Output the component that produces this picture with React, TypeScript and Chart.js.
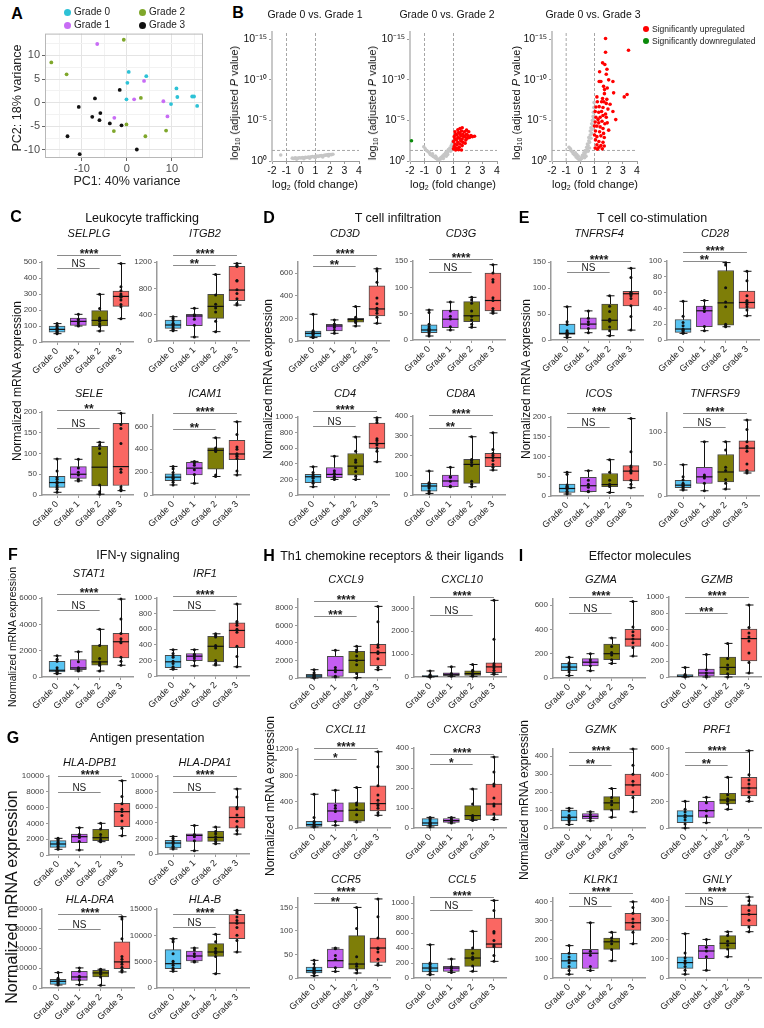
import React, { useEffect, useRef } from "react";
import { Chart, registerables } from "chart.js";

Chart.register(...registerables);
const FF = "Arial, 'Liberation Sans', Helvetica, sans-serif";
Chart.defaults.font.family = FF;

// ---------- shared categories / colors ----------
const GRADES = ["Grade 0", "Grade 1", "Grade 2", "Grade 3"];
const BOX_COLORS = ["#58C4F2", "#C45EF2", "#7E7E08", "#FA6762"];
const PCA_COLORS = ["#2DC2D6", "#C86CF5", "#7FA72B", "#111111"];
const SIG_PAIRS = [[0, 3], [0, 2]];

// ---------- Panel A: PCA ----------
const PCA_G0 = [[0.4, 6.5], [0.1, 4.2], [4.3, 5.6], [-0.1, 0.7], [9.8, -0.3], [11.0, 3.0], [11.2, 1.2], [14.5, 1.3], [14.9, 1.3], [15.6, -0.7]];
const PCA_G1 = [[-6.6, 12.4], [3.8, 4.6], [1.6, 0.7], [8.1, 0.3], [-2.8, -3.2], [9.0, -2.9]];
const PCA_G2 = [[-16.8, 8.5], [-13.4, 6.0], [-0.7, 13.3], [3.1, 1.0], [-2.9, -6.0], [-0.1, -4.6], [4.1, -7.1], [8.7, -5.9]];
const PCA_G3 = [[-1.6, 2.7], [-7.1, 0.9], [-10.7, -0.9], [-5.9, -2.2], [-7.7, -3.0], [-6.1, -3.7], [-3.8, -4.4], [-1.2, -4.8], [-13.2, -7.1], [2.2, -9.9], [-10.5, -10.9]];

// ---------- Panel B: volcano ----------
const V1_GRAY = [[-1.4, 0.74], [-0.6, 0.35], [-0.5, 0.3], [-0.4, 0.38], [-0.3, 0.32], [-0.2, 0.36], [-0.1, 0.4], [0, 0.37], [0.1, 0.42], [0.2, 0.4], [0.3, 0.45], [0.4, 0.43], [0.5, 0.5], [0.6, 0.47], [0.7, 0.52], [0.8, 0.55], [0.9, 0.5], [1.0, 0.58], [1.1, 0.6], [1.2, 0.57], [1.3, 0.63], [1.4, 0.66], [1.5, 0.62], [1.6, 0.7], [1.7, 0.72], [1.8, 0.75], [1.9, 0.78], [2.0, 0.8], [2.1, 0.78], [2.2, 0.83], [-0.3, 0.22], [0.2, 0.28], [0.6, 0.35], [1.0, 0.42], [1.5, 0.5], [1.9, 0.62]];
const V2_GRAY = [[-1.05, 1.75], [-0.95, 1.5], [-0.85, 1.3], [-0.75, 1.15], [-0.65, 1.0], [-0.6, 0.8], [-0.5, 0.7], [-0.45, 0.9], [-0.4, 0.55], [-0.3, 0.45], [-0.25, 0.6], [-0.2, 0.3], [-0.1, 0.2], [0, 0.15], [0.05, 0.3], [0.1, 0.25], [0.15, 0.45], [0.2, 0.4], [0.25, 0.6], [0.3, 0.55], [0.35, 0.8], [0.4, 0.7], [0.45, 1.0], [0.5, 0.9], [0.55, 1.2], [0.6, 1.1], [0.65, 1.4], [0.7, 1.3], [0.75, 1.6], [0.8, 1.5], [0.85, 1.9], [0.9, 1.7], [0.92, 2.2], [0.95, 2.0], [0.97, 2.5], [0.6, 0.8], [0.3, 0.3], [-0.2, 0.5], [0.8, 1.2], [0.5, 0.6]];
const V2_RED = [[1.0, 1.5], [1.05, 1.8], [1.1, 2.1], [1.0, 2.4], [1.1, 2.7], [1.05, 3.0], [1.15, 3.3], [1.1, 3.6], [1.2, 1.6], [1.25, 2.0], [1.3, 2.3], [1.2, 2.6], [1.3, 2.9], [1.25, 3.2], [1.35, 3.5], [1.3, 3.85], [1.4, 1.7], [1.45, 2.1], [1.5, 2.5], [1.4, 2.8], [1.5, 3.1], [1.45, 3.4], [1.55, 3.7], [1.6, 1.9], [1.65, 2.3], [1.6, 2.7], [1.7, 3.0], [1.65, 3.3], [1.75, 3.6], [1.8, 2.2], [1.85, 2.6], [1.8, 3.0], [1.9, 3.3], [1.95, 2.8], [2.0, 3.1], [2.1, 2.9], [2.2, 3.15], [2.3, 3.0], [2.45, 3.05], [1.15, 1.35], [1.35, 1.4], [1.55, 1.35], [2.05, 3.6], [1.45, 4.0], [1.6, 4.1], [1.9, 3.8]];
const V2_GREEN = [[-1.9, 2.5]];
const V3_GRAY = [[-0.8, 1.7], [-0.7, 1.5], [-0.65, 1.25], [-0.55, 1.1], [-0.5, 0.9], [-0.4, 0.75], [-0.35, 1.0], [-0.3, 0.5], [-0.2, 0.35], [-0.15, 0.6], [-0.1, 0.2], [0, 0.15], [0.05, 0.4], [0.1, 0.3], [0.15, 0.7], [0.2, 0.55], [0.25, 1.0], [0.3, 0.85], [0.35, 1.3], [0.4, 1.1], [0.45, 1.7], [0.5, 1.5], [0.5, 2.1], [0.55, 1.9], [0.6, 2.5], [0.6, 2.9], [0.65, 2.3], [0.7, 3.2], [0.7, 3.7], [0.75, 2.8], [0.75, 4.1], [0.8, 3.4], [0.8, 4.6], [0.85, 5.0], [0.85, 3.9], [0.9, 5.5], [0.9, 4.4], [0.92, 6.0], [0.95, 6.6], [0.95, 5.2], [0.97, 7.2], [0.55, 1.2], [0.3, 0.4], [-0.25, 0.8], [0.65, 1.6], [0.4, 0.6]];
const V3_RED = [[1.78, 15.1], [3.4, 13.65], [1.78, 13.4], [1.57, 12.1], [1.73, 11.9], [1.88, 11.3], [1.36, 11.0], [1.83, 10.7], [1.33, 9.8], [1.45, 9.8], [2.0, 10.0], [2.3, 9.8], [1.64, 9.2], [1.71, 8.8], [1.9, 9.0], [2.35, 8.4], [1.7, 8.3], [1.17, 7.9], [1.57, 7.7], [1.87, 7.6], [3.3, 8.2], [3.1, 7.9], [1.2, 7.3], [1.5, 7.3], [1.66, 7.3], [1.83, 7.1], [1.1, 6.65], [1.33, 6.7], [1.6, 6.6], [2.3, 6.1], [1.05, 6.1], [1.3, 6.0], [1.5, 6.1], [1.78, 5.8], [1.1, 5.4], [1.4, 5.4], [1.6, 5.6], [1.83, 5.4], [2.5, 5.1], [1.05, 4.8], [1.3, 4.7], [1.53, 4.9], [1.73, 4.6], [1.17, 4.3], [1.4, 4.2], [1.6, 4.0], [1.07, 3.7], [1.36, 3.6], [1.64, 3.4], [1.17, 3.0], [1.45, 3.1], [1.69, 2.9], [1.07, 2.6], [1.31, 2.4], [1.6, 2.3], [1.17, 2.0], [1.45, 1.9], [1.69, 1.85], [1.05, 1.6], [1.31, 1.7], [1.2, 1.45], [1.55, 1.5], [1.0, 3.2], [1.0, 4.3], [1.25, 5.1], [1.95, 6.4], [2.1, 7.0], [1.9, 4.7], [2.0, 3.8]];
const VOLCANO_YTICKS = [0, 5, 10, 15];
const VOLCANO_YLABELS = ["10\u2070", "10\u207B\u2075", "10\u207B\u00B9\u2070", "10\u207B\u00B9\u2075"];
const VOLCANO_XTICKS = [-2, -1, 0, 1, 2, 3, 4];

// ---------- Box plots: [min, q1, median, q3, max] per grade, and points ----------
const SELPLG_STATS = [[52, 62, 79, 100, 115], [100, 104, 129, 150, 173], [69, 100, 135, 196, 298], [146, 223, 285, 319, 490]];
const SELPLG_PTS = [[52, 58, 62, 68, 75, 80, 86, 95, 104, 115], [100, 104, 118, 129, 142, 173], [69, 98, 112, 130, 140, 150, 210, 298], [146, 220, 235, 262, 280, 290, 300, 320, 345, 490]];
const SELPLG_SIG = ["****", "NS"];
const ITGB2_STATS = [[157, 192, 243, 319, 369], [61, 233, 380, 405, 496], [142, 344, 526, 708, 1012], [546, 612, 774, 1133, 1179]];
const ITGB2_PTS = [[157, 180, 200, 228, 250, 270, 310, 340, 369], [61, 240, 330, 380, 400, 496], [142, 300, 440, 500, 560, 700, 1012], [546, 570, 640, 720, 780, 910, 920, 1130, 1150, 1179]];
const ITGB2_SIG = ["****", "**"];
const SELE_STATS = [[6.5, 18.5, 30, 45, 87], [34, 40, 50, 68.5, 86], [2, 22, 67, 117, 127], [10.5, 23, 68.5, 173, 197]];
const SELE_PTS = [[6.5, 14, 18, 22, 28, 32, 38, 42, 58, 87], [34, 38, 48, 55, 65, 86], [2, 8, 24, 100, 112, 120, 127], [10.5, 14, 20, 55, 62, 124, 160, 170, 197]];
const SELE_SIG = ["**", "NS"];
const ICAM1_STATS = [[88, 126, 156, 185, 250], [103, 176, 235, 285, 294], [162, 226, 391, 412, 500], [176, 309, 359, 479, 641]];
const ICAM1_PTS = [[88, 112, 130, 145, 152, 160, 175, 196, 230, 250], [103, 180, 220, 260, 280, 294], [162, 175, 380, 390, 400, 412, 500], [176, 210, 320, 340, 350, 360, 400, 420, 530, 641]];
const ICAM1_SIG = ["****", "**"];
const CD3D_STATS = [[30, 36, 68, 89, 237], [68, 89, 133, 148, 187], [133, 166, 190, 201, 305], [157, 222, 284, 489, 640]];
const CD3D_PTS = [[30, 34, 40, 55, 62, 70, 75, 82, 90, 237], [68, 95, 120, 135, 150, 187], [133, 165, 175, 185, 195, 210, 305], [157, 210, 245, 270, 290, 330, 380, 520, 620, 640]];
const CD3D_SIG = ["****", "**"];
const CD3G_STATS = [[7.6, 14, 19, 28.7, 57], [19, 23.6, 39.5, 57, 72], [24, 35, 46, 73, 81], [51, 55, 75, 127, 143]];
const CD3G_PTS = [[7.6, 12, 16, 18, 20, 22, 25, 30, 52, 57], [19, 25, 40, 45, 55, 72], [24, 30, 38, 45, 55, 70, 76, 81], [51, 53, 55, 60, 75, 80, 110, 115, 127, 143]];
const CD3G_SIG = ["****", "NS"];
const CD4_STATS = [[106, 157, 234, 264, 362], [200, 221, 264, 353, 498], [200, 255, 370, 532, 745], [426, 596, 660, 923, 991]];
const CD4_PTS = [[106, 150, 180, 215, 230, 245, 260, 290, 362], [200, 215, 240, 280, 310, 498], [200, 240, 300, 350, 420, 450, 560, 745], [426, 560, 600, 640, 660, 700, 720, 930, 960, 991]];
const CD4_SIG = ["****", "NS"];
const CD8A_STATS = [[8, 20, 45.5, 59, 121], [42, 42, 71, 101, 140], [42, 59, 155, 180, 295], [126, 143, 189, 211, 315]];
const CD8A_PTS = [[8, 15, 22, 35, 40, 48, 52, 58, 62, 121], [42, 45, 70, 90, 92, 140], [42, 55, 70, 150, 165, 175, 180, 295], [126, 140, 155, 175, 190, 200, 210, 230, 315]];
const CD8A_SIG = ["****", "**"];
const TNFRSF4_STATS = [[5, 10.8, 12.7, 30.6, 64], [14, 21, 30.6, 42.7, 56], [8.3, 19, 38, 69, 85], [19, 65.6, 89, 93.6, 138]];
const TNFRSF4_PTS = [[5, 8, 10, 12, 13, 15, 18, 30, 35, 64], [14, 22, 30, 35, 42, 56], [8.3, 18, 25, 36, 40, 55, 65, 85], [19, 45, 66, 80, 85, 88, 90, 92, 120, 138]];
const TNFRSF4_SIG = ["****", "NS"];
const CD28_STATS = [[8.4, 9.7, 13.9, 26, 49], [11.8, 16.8, 37, 43, 50], [16.8, 18.9, 47, 88, 98], [30.7, 40, 47.5, 62, 87]];
const CD28_PTS = [[8.4, 9, 10, 12, 13, 14, 18, 22, 30, 49], [11.8, 17, 36, 40, 42, 50], [16.8, 18, 20, 42, 48, 66, 95, 98], [30.7, 38, 42, 45, 47, 48, 50, 56, 75, 87]];
const CD28_SIG = ["****", "**"];
const ICOS_STATS = [[5, 9, 19, 30, 60], [11, 11, 26, 47, 64], [9, 23.5, 29, 57, 92], [21, 38, 63, 77, 196]];
const ICOS_PTS = [[5, 8, 12, 18, 20, 22, 25, 28, 55, 60], [11, 12, 22, 30, 40, 64], [9, 24, 26, 30, 40, 60, 92], [21, 30, 40, 58, 62, 65, 72, 76, 112, 196]];
const ICOS_SIG = ["***", "NS"];
const TNFRSF9_STATS = [[9.3, 12.9, 17, 24.7, 49], [8.2, 19.6, 30, 45, 85], [10.8, 22, 37.6, 65, 85], [36, 38.6, 75, 86.5, 119]];
const TNFRSF9_PTS = [[9.3, 11, 13, 15, 17, 18, 20, 25, 30, 49], [8.2, 20, 28, 31, 33, 85], [10.8, 20, 26, 40, 45, 72, 85], [36, 38, 40, 50, 70, 75, 78, 85, 104, 119]];
const TNFRSF9_SIG = ["****", "NS"];
const STAT1_STATS = [[255, 382, 510, 1198, 1607], [459, 561, 689, 1326, 1913], [459, 893, 1148, 2422, 3621], [893, 1454, 2678, 3315, 5916]];
const STAT1_PTS = [[255, 330, 400, 450, 520, 700, 1200, 1350, 1607], [459, 520, 650, 700, 1150, 1913], [459, 900, 1000, 1148, 1400, 2400, 3621], [893, 1200, 1500, 2600, 2700, 2900, 3300, 4400, 5916]];
const STAT1_SIG = ["****", "NS"];
const IRF1_STATS = [[85, 106, 182, 266, 338], [131, 195, 254, 288, 338], [140, 182, 381, 508, 541], [118, 364, 584, 681, 922]];
const IRF1_PTS = [[85, 100, 120, 160, 190, 240, 260, 290, 338], [131, 200, 230, 260, 280, 338], [140, 160, 200, 360, 390, 500, 520, 541], [118, 250, 380, 560, 600, 650, 680, 700, 922]];
const IRF1_SIG = ["****", "NS"];
const HLA_DPB1_STATS = [[717, 971, 1393, 1815, 2110], [633, 1561, 2321, 2659, 3460], [1688, 1815, 2194, 3249, 4009], [2448, 3587, 5486, 6541, 9411]];
const HLA_DPB1_PTS = [[717, 900, 1100, 1300, 1450, 1600, 1800, 2000, 2110], [633, 1700, 2200, 2400, 2600, 3460], [1688, 1800, 1900, 2200, 2600, 3300, 4009], [2448, 3400, 4300, 5000, 5500, 5800, 6500, 7400, 9411]];
const HLA_DPB1_SIG = ["****", "NS"];
const HLA_DPA1_STATS = [[638, 766, 1404, 1745, 2255], [425, 1617, 2383, 2596, 3659], [1319, 1617, 2128, 2893, 3447], [2553, 3319, 4681, 6085, 8340]];
const HLA_DPA1_PTS = [[638, 800, 1000, 1300, 1500, 1700, 2000, 2255], [425, 1700, 2200, 2400, 2500, 3659], [1319, 1600, 1900, 2200, 2600, 2900, 3447], [2553, 3000, 3500, 4200, 5000, 5800, 6000, 7300, 8340]];
const HLA_DPA1_SIG = ["****", "NS"];
const HLA_DRA_STATS = [[1526, 1865, 3390, 4407, 7797], [1695, 3898, 5593, 8475, 10170], [1356, 5593, 7627, 8983, 9492], [8136, 9831, 13220, 23390, 36100]];
const HLA_DRA_PTS = [[1526, 2000, 2500, 3000, 3500, 4000, 4200, 5000, 7797], [1695, 4000, 5500, 6000, 8500, 10170], [1356, 5600, 7000, 7600, 8500, 9200, 9492], [8136, 9000, 10500, 12000, 13200, 14500, 16000, 25000, 35000, 36100]];
const HLA_DRA_SIG = ["****", "NS"];
const HLA_B_STATS = [[3165, 3671, 4621, 7280, 9368], [4937, 5127, 6077, 7026, 7596], [2722, 6013, 6836, 8419, 10190], [6836, 9368, 12340, 13990, 14750]];
const HLA_B_PTS = [[3165, 3500, 3800, 4300, 4700, 5100, 6500, 8800, 9200, 9368], [4937, 5100, 6000, 6500, 7200, 7596], [2722, 6000, 6600, 7000, 7500, 8800, 10190], [6836, 9000, 10000, 11500, 12300, 12800, 13500, 14200, 14500, 14750]];
const HLA_B_SIG = ["****", "NS"];
const CXCL9_STATS = [[0, 38, 228, 417, 949], [114, 190, 873, 2467, 3150], [38, 569, 2011, 3036, 3605], [949, 1366, 2884, 3833, 8159]];
const CXCL9_PTS = [[0, 30, 80, 150, 230, 300, 400, 600, 949], [114, 200, 700, 900, 1200, 3150], [38, 500, 1500, 2000, 2500, 3000, 3200, 3605], [949, 1200, 2200, 2800, 3000, 3500, 3800, 6400, 8159]];
const CXCL9_SIG = ["****", "***"];
const CXCL10_STATS = [[0, 0, 30, 59, 266], [30, 59, 118, 177, 443], [30, 74, 148, 266, 546], [118, 192, 443, 620, 3353]];
const CXCL10_PTS = [[0, 10, 20, 30, 40, 60, 100, 266], [30, 80, 120, 150, 443], [30, 70, 120, 150, 250, 300, 546], [118, 150, 200, 300, 400, 500, 580, 1650, 3353]];
const CXCL10_SIG = ["****", "NS"];
const CXCL11_STATS = [[15, 25, 51, 102, 513], [41, 91, 259, 381, 574], [91, 102, 269, 386, 615], [193, 259, 371, 640, 1158]];
const CXCL11_PTS = [[15, 20, 30, 45, 55, 80, 100, 160, 513], [41, 100, 250, 300, 340, 574], [91, 100, 200, 280, 350, 380, 615], [193, 230, 300, 340, 370, 420, 500, 640, 930, 1158]];
const CXCL11_SIG = ["****", "*"];
const CXCR3_STATS = [[5, 12, 25, 47, 53], [25, 28, 37, 47, 53], [38, 42, 62, 112, 195], [42, 63, 120, 220, 355]];
const CXCR3_PTS = [[5, 12, 18, 22, 25, 30, 40, 48, 53], [25, 30, 36, 40, 45, 53], [38, 42, 50, 55, 62, 120, 195], [42, 50, 70, 110, 120, 150, 210, 220, 280, 355]];
const CXCR3_SIG = ["****", "*"];
const CCR5_STATS = [[5, 10.6, 15.6, 23.3, 37.5], [14, 21.2, 36.8, 61.6, 63.7], [10.6, 19, 29.7, 90, 150], [27, 33, 63.7, 85, 168]];
const CCR5_PTS = [[5, 10, 12, 14, 16, 18, 20, 22, 30, 37.5], [14, 22, 40, 48, 62, 63.7], [10.6, 18, 25, 30, 45, 105, 150], [27, 30, 40, 55, 62, 64, 85, 130, 168]];
const CCR5_SIG = ["****", "**"];
const CCL5_STATS = [[44, 80, 133, 200, 444], [75, 89, 133, 155, 253], [89, 155, 266, 386, 622], [222, 400, 453, 800, 1035]];
const CCL5_PTS = [[44, 60, 90, 120, 150, 180, 200, 444], [75, 100, 130, 150, 253], [89, 160, 250, 280, 330, 400, 622], [222, 300, 420, 440, 500, 600, 620, 900, 1035]];
const CCL5_SIG = ["****", "NS"];
const GZMA_STATS = [[20, 60, 90, 120, 170], [60, 100, 130, 160, 200], [120, 150, 200, 280, 330], [180, 260, 320, 400, 630]];
const GZMA_PTS = [[20, 50, 70, 85, 95, 110, 125, 170], [60, 100, 130, 150, 200], [120, 150, 190, 210, 260, 330], [180, 250, 290, 320, 350, 380, 420, 630]];
const GZMA_SIG = ["****", "NS"];
const GZMB_STATS = [[0, 5, 10, 30, 120], [0, 10, 50, 100, 280], [0, 30, 120, 250, 420], [50, 200, 480, 600, 900]];
const GZMB_PTS = [[0, 5, 8, 12, 20, 30, 120], [0, 20, 50, 90, 280], [0, 40, 100, 150, 230, 420], [50, 180, 300, 450, 500, 550, 620, 900]];
const GZMB_SIG = ["****", "***"];
const GZMK_STATS = [[20, 40, 60, 100, 110], [40, 50, 65, 80, 90], [60, 100, 140, 175, 220], [90, 180, 240, 300, 440]];
const GZMK_PTS = [[20, 35, 45, 55, 60, 70, 95, 110], [40, 55, 62, 75, 90], [60, 100, 130, 150, 170, 220], [90, 170, 200, 240, 260, 300, 350, 440]];
const GZMK_SIG = ["****", "**"];
const PRF1_STATS = [[0, 40, 90, 130, 200], [40, 80, 130, 200, 230], [140, 180, 210, 260, 380], [200, 240, 300, 380, 580]];
const PRF1_PTS = [[0, 30, 60, 80, 95, 120, 140, 200], [40, 90, 130, 190, 230], [140, 180, 200, 220, 250, 380], [200, 230, 270, 300, 330, 360, 400, 580]];
const PRF1_SIG = ["****", "**"];
const KLRK1_STATS = [[20, 50, 90, 130, 170], [40, 50, 130, 150, 290], [90, 150, 190, 210, 240], [180, 250, 290, 340, 400]];
const KLRK1_PTS = [[20, 40, 60, 80, 95, 110, 130, 170], [40, 60, 120, 140, 290], [90, 150, 180, 195, 210, 240], [180, 240, 270, 290, 310, 340, 370, 400]];
const KLRK1_SIG = ["****", "NS"];
const GNLY_STATS = [[20, 50, 80, 110, 230], [40, 100, 140, 170, 200], [110, 150, 180, 220, 240], [240, 270, 330, 380, 420]];
const GNLY_PTS = [[20, 40, 60, 75, 90, 105, 130, 230], [40, 110, 140, 160, 200], [110, 150, 170, 190, 220, 240], [240, 265, 300, 330, 350, 380, 400, 420]];
const GNLY_SIG = ["****", "NS"];

// ---------- layout of each box chart (pixels) ----------
const BOX_CHARTS = [
  { gene: "SELPLG", stats: SELPLG_STATS, pts: SELPLG_PTS, sig: SELPLG_SIG, ymax: 500, step: 100, axisX: 42, cat0: 57, top: 262, zero: 342, sigY: [255, 268], titleY: 233 },
  { gene: "ITGB2", stats: ITGB2_STATS, pts: ITGB2_PTS, sig: ITGB2_SIG, ymax: 1200, step: 400, axisX: 157, cat0: 173, top: 262, zero: 341, sigY: [255, 265], titleY: 233 },
  { gene: "SELE", stats: SELE_STATS, pts: SELE_PTS, sig: SELE_SIG, ymax: 200, step: 50, axisX: 42, cat0: 57, top: 412, zero: 495, sigY: [410, 428], titleY: 393 },
  { gene: "ICAM1", stats: ICAM1_STATS, pts: ICAM1_PTS, sig: ICAM1_SIG, ymax: 700, step: 200, axisX: 153, cat0: 173, top: 415, zero: 495, sigY: [413, 429], titleY: 393 },
  { gene: "CD3D", stats: CD3D_STATS, pts: CD3D_PTS, sig: CD3D_SIG, ymax: 700, step: 200, axisX: 298, cat0: 313, top: 262, zero: 341, sigY: [255, 266], titleY: 233 },
  { gene: "CD3G", stats: CD3G_STATS, pts: CD3G_PTS, sig: CD3G_SIG, ymax: 150, step: 50, axisX: 413, cat0: 429, top: 261, zero: 340, sigY: [259, 272], titleY: 233 },
  { gene: "CD4", stats: CD4_STATS, pts: CD4_PTS, sig: CD4_SIG, ymax: 1000, step: 200, axisX: 298, cat0: 313, top: 417, zero: 495, sigY: [411, 426], titleY: 393 },
  { gene: "CD8A", stats: CD8A_STATS, pts: CD8A_PTS, sig: CD8A_SIG, ymax: 400, step: 100, axisX: 413, cat0: 429, top: 416, zero: 495, sigY: [415, 428], titleY: 393 },
  { gene: "TNFRSF4", stats: TNFRSF4_STATS, pts: TNFRSF4_PTS, sig: TNFRSF4_SIG, ymax: 150, step: 50, axisX: 551, cat0: 567, top: 262, zero: 340, sigY: [261, 272], titleY: 233 },
  { gene: "CD28", stats: CD28_STATS, pts: CD28_PTS, sig: CD28_SIG, ymax: 100, step: 20, axisX: 667, cat0: 683, top: 261, zero: 340, sigY: [252, 261], titleY: 233 },
  { gene: "ICOS", stats: ICOS_STATS, pts: ICOS_PTS, sig: ICOS_SIG, ymax: 200, step: 50, axisX: 551, cat0: 567, top: 417, zero: 496, sigY: [413, 427], titleY: 393 },
  { gene: "TNFRSF9", stats: TNFRSF9_STATS, pts: TNFRSF9_PTS, sig: TNFRSF9_SIG, ymax: 130, step: 50, axisX: 667, cat0: 683, top: 413, zero: 496, sigY: [413, 427], titleY: 393 },
  { gene: "STAT1", stats: STAT1_STATS, pts: STAT1_PTS, sig: STAT1_SIG, ymax: 6000, step: 2000, axisX: 42, cat0: 57, top: 598, zero: 677, sigY: [594, 610], titleY: 573 },
  { gene: "IRF1", stats: IRF1_STATS, pts: IRF1_PTS, sig: IRF1_SIG, ymax: 1000, step: 200, axisX: 157, cat0: 173, top: 598, zero: 676, sigY: [596, 610], titleY: 573 },
  { gene: "HLA-DPB1", stats: HLA_DPB1_STATS, pts: HLA_DPB1_PTS, sig: HLA_DPB1_SIG, ymax: 10000, step: 2000, axisX: 49, cat0: 58, top: 776, zero: 855, sigY: [776, 792], titleY: 762 },
  { gene: "HLA-DPA1", stats: HLA_DPA1_STATS, pts: HLA_DPA1_PTS, sig: HLA_DPA1_SIG, ymax: 10000, step: 2000, axisX: 158, cat0: 173, top: 776, zero: 854, sigY: [776, 792], titleY: 762 },
  { gene: "HLA-DRA", stats: HLA_DRA_STATS, pts: HLA_DRA_PTS, sig: HLA_DRA_SIG, ymax: 40000, step: 10000, axisX: 42, cat0: 58, top: 909, zero: 988, sigY: [914, 929], titleY: 899 },
  { gene: "HLA-B", stats: HLA_B_STATS, pts: HLA_B_PTS, sig: HLA_B_SIG, ymax: 15000, step: 5000, axisX: 157, cat0: 173, top: 909, zero: 988, sigY: [914, 927], titleY: 899 },
  { gene: "CXCL9", stats: CXCL9_STATS, pts: CXCL9_PTS, sig: CXCL9_SIG, ymax: 9000, step: 2000, axisX: 298, cat0: 314, top: 599, zero: 678, sigY: [601, 616], titleY: 579 },
  { gene: "CXCL10", stats: CXCL10_STATS, pts: CXCL10_PTS, sig: CXCL10_SIG, ymax: 3500, step: 1000, axisX: 414, cat0: 430, top: 597, zero: 677, sigY: [597, 615], titleY: 579 },
  { gene: "CXCL11", stats: CXCL11_STATS, pts: CXCL11_PTS, sig: CXCL11_SIG, ymax: 1200, step: 400, axisX: 298, cat0: 314, top: 749, zero: 828, sigY: [748, 759], titleY: 729 },
  { gene: "CXCR3", stats: CXCR3_STATS, pts: CXCR3_PTS, sig: CXCR3_SIG, ymax: 400, step: 100, axisX: 414, cat0: 430, top: 748, zero: 828, sigY: [754, 764], titleY: 729 },
  { gene: "CCR5", stats: CCR5_STATS, pts: CCR5_PTS, sig: CCR5_SIG, ymax: 170, step: 50, axisX: 298, cat0: 314, top: 898, zero: 978, sigY: [893, 903], titleY: 879 },
  { gene: "CCL5", stats: CCL5_STATS, pts: CCL5_PTS, sig: CCL5_SIG, ymax: 1080, step: 200, axisX: 414, cat0: 430, top: 897, zero: 978, sigY: [897, 910], titleY: 879 },
  { gene: "GZMA", stats: GZMA_STATS, pts: GZMA_PTS, sig: GZMA_SIG, ymax: 650, step: 200, axisX: 553, cat0: 569, top: 599, zero: 678, sigY: [597, 613], titleY: 579 },
  { gene: "GZMB", stats: GZMB_STATS, pts: GZMB_PTS, sig: GZMB_SIG, ymax: 1000, step: 200, axisX: 669, cat0: 685, top: 597, zero: 677, sigY: [597, 613], titleY: 579 },
  { gene: "GZMK", stats: GZMK_STATS, pts: GZMK_PTS, sig: GZMK_SIG, ymax: 440, step: 100, axisX: 553, cat0: 569, top: 749, zero: 828, sigY: [752, 765], titleY: 729 },
  { gene: "PRF1", stats: PRF1_STATS, pts: PRF1_PTS, sig: PRF1_SIG, ymax: 600, step: 200, axisX: 669, cat0: 685, top: 748, zero: 828, sigY: [752, 765], titleY: 729 },
  { gene: "KLRK1", stats: KLRK1_STATS, pts: KLRK1_PTS, sig: KLRK1_SIG, ymax: 420, step: 100, axisX: 553, cat0: 569, top: 898, zero: 978, sigY: [893, 906], titleY: 879 },
  { gene: "GNLY", stats: GNLY_STATS, pts: GNLY_PTS, sig: GNLY_SIG, ymax: 420, step: 100, axisX: 669, cat0: 685, top: 897, zero: 978, sigY: [893, 906], titleY: 879 },
];

const SP = 21.2;
const AXIS = "#9a9a9a";

function Txt(p: any) {
  const { x, y, s = 12, w = "normal", it = false, rot = false, color = "#111", children } = p;
  return (
    <div style={{ position: "absolute", left: x, top: y, transform: `translate(-50%,-50%)${rot ? " rotate(-90deg)" : ""}`, fontSize: s, fontWeight: w, fontStyle: it ? "italic" : "normal", fontFamily: FF, color, whiteSpace: "nowrap", lineHeight: 1 }}>
      {children}
    </div>
  );
}

function BoxChart({ c }: { c: any }) {
  const PADL = 40, PADT = 30, PADB = 44, PADR = 4;
  const xmin = -(c.cat0 - c.axisX) / SP;
  const xmax = 3 + 12 / SP;
  const plotW = Math.round((xmax - xmin) * SP);
  const w = PADL + plotW + PADR;
  const h = PADT + (c.zero - c.top) + PADB;
  const left = c.axisX - PADL;
  const top = c.top - PADT;
  const ref = useRef<HTMLCanvasElement>(null);
  useEffect(() => {
    const extras = {
      id: "boxExtras",
      beforeDatasetsDraw(chart: any) {
        const { ctx } = chart;
        const xs = chart.scales.x, ys = chart.scales.y;
        ctx.save();
        ctx.strokeStyle = "#111";
        ctx.lineWidth = 1;
        c.stats.forEach((s: number[], i: number) => {
          const px = Math.round(xs.getPixelForValue(i)) + 0.5;
          const y0 = ys.getPixelForValue(s[0]), y4 = ys.getPixelForValue(s[4]);
          ctx.beginPath();
          ctx.moveTo(px, y0); ctx.lineTo(px, y4);
          ctx.moveTo(px - 4, y0); ctx.lineTo(px + 4, y0);
          ctx.moveTo(px - 4, y4); ctx.lineTo(px + 4, y4);
          ctx.stroke();
        });
        ctx.restore();
      },
      afterDatasetDraw(chart: any, args: any) {
        if (args.index !== 0) return;
        const { ctx } = chart;
        const xs = chart.scales.x, ys = chart.scales.y;
        ctx.save();
        ctx.strokeStyle = "#111";
        ctx.lineWidth = 1.2;
        c.stats.forEach((s: number[], i: number) => {
          const px = xs.getPixelForValue(i);
          const ym = ys.getPixelForValue(s[2]);
          ctx.beginPath();
          ctx.moveTo(px - 8, ym); ctx.lineTo(px + 8, ym);
          ctx.stroke();
        });
        ctx.restore();
      },
      afterDraw(chart: any) {
        const { ctx } = chart;
        const xs = chart.scales.x;
        ctx.save();
        SIG_PAIRS.forEach((pr, k) => {
          const y = c.sigY[k] - top + 0.5;
          const x1 = xs.getPixelForValue(pr[0]), x2 = xs.getPixelForValue(pr[1]);
          ctx.strokeStyle = "#8a8a8a";
          ctx.lineWidth = 1;
          ctx.beginPath(); ctx.moveTo(x1, y); ctx.lineTo(x2, y); ctx.stroke();
          const lab = c.sig[k];
          ctx.fillStyle = "#1a1a1a";
          ctx.textAlign = "center";
          ctx.textBaseline = "alphabetic";
          if (lab === "NS") {
            ctx.font = `10px ${FF}`;
            ctx.fillText(lab, (x1 + x2) / 2, y - 2);
          } else {
            ctx.font = `bold 12px ${FF}`;
            ctx.fillText(lab, (x1 + x2) / 2, y + 2.5);
          }
        });
        ctx.restore();
      },
    };
    const yTicks: number[] = [];
    for (let v = 0; v <= c.ymax + 1e-9; v += c.step) yTicks.push(v);
    const chart = new Chart(ref.current as HTMLCanvasElement, {
      type: "bar",
      data: {
        datasets: [
          {
            type: "bar",
            data: c.stats.map((s: number[], i: number) => ({ x: i, y: [s[1], s[3]] })),
            backgroundColor: BOX_COLORS,
            borderColor: "#4a4a4a",
            borderWidth: 1,
            borderSkipped: false,
            barThickness: 16,
            order: 2,
          } as any,
          {
            type: "scatter",
            data: c.pts.flatMap((g: number[], i: number) => g.map((v) => ({ x: i, y: v }))),
            backgroundColor: "#111",
            borderWidth: 0,
            pointRadius: 1.5,
            clip: false,
            order: 1,
          } as any,
        ],
      },
      options: {
        responsive: false,
        animation: false,
        layout: { padding: { left: 0, top: PADT, right: PADR, bottom: 0 } },
        plugins: { legend: { display: false }, tooltip: { enabled: false } },
        scales: {
          x: {
            type: "linear",
            min: xmin,
            max: xmax,
            offset: false,
            afterBuildTicks: (s: any) => { s.ticks = [0, 1, 2, 3].map((v) => ({ value: v })); },
            afterFit: (s: any) => { s.height = PADB; },
            ticks: { callback: (v: any) => GRADES[v] ?? "", minRotation: 45, maxRotation: 45, autoSkip: false, font: { size: 9, family: FF }, color: "#222", padding: 1 },
            grid: { display: true, drawOnChartArea: false, drawTicks: true, tickLength: 3, color: AXIS, offset: false },
            border: { display: true, color: AXIS, width: 1.5 },
          },
          y: {
            type: "linear",
            min: 0,
            max: c.ymax,
            afterBuildTicks: (s: any) => { s.ticks = yTicks.map((v) => ({ value: v })); },
            afterFit: (s: any) => { s.width = PADL; },
            ticks: { autoSkip: false, callback: (v: any) => String(v), font: { size: 8, family: FF }, color: "#444", padding: 2 },
            grid: { display: true, drawOnChartArea: false, drawTicks: true, tickLength: 3, color: AXIS },
            border: { display: true, color: AXIS, width: 1.5 },
          },
        },
      } as any,
      plugins: [extras as any],
    });
    return () => chart.destroy();
  }, []);
  return (
    <>
      <canvas ref={ref} width={w} height={h} style={{ position: "absolute", left, top, width: w, height: h }} />
      <Txt x={c.cat0 + 32} y={c.titleY} s={11} it>{c.gene}</Txt>
    </>
  );
}

function PCAChart() {
  const ref = useRef<HTMLCanvasElement>(null);
  useEffect(() => {
    const frame = {
      id: "frame",
      beforeDatasetsDraw(chart: any) {
        const { ctx, chartArea: a } = chart;
        ctx.save();
        ctx.strokeStyle = "#b8b8b8";
        ctx.lineWidth = 1;
        ctx.strokeRect(a.left + 0.5, a.top + 0.5, a.right - a.left - 1, a.bottom - a.top - 1);
        ctx.restore();
      },
    };
    const major = (v: number, m: number) => Math.abs(v % m) < 1e-9;
    const chart = new Chart(ref.current as HTMLCanvasElement, {
      type: "scatter",
      data: {
        datasets: [PCA_G0, PCA_G1, PCA_G2, PCA_G3].map((d, i) => ({
          data: d.map(([x, y]) => ({ x, y })),
          backgroundColor: PCA_COLORS[i],
          borderWidth: 0,
          pointRadius: 1.9,
          clip: false,
        })),
      },
      options: {
        responsive: false,
        animation: false,
        layout: { padding: { left: 0, top: 8, right: 7, bottom: 0 } },
        plugins: { legend: { display: false }, tooltip: { enabled: false } },
        scales: {
          x: {
            type: "linear", min: -18.2, max: 16.9,
            afterBuildTicks: (s: any) => { s.ticks = [-15, -10, -5, 0, 5, 10, 15].map((v) => ({ value: v })); },
            afterFit: (s: any) => { s.height = 32; },
            ticks: { callback: (v: any) => (major(v, 10) ? String(v) : ""), autoSkip: false, maxRotation: 0, font: { size: 11, family: FF }, color: "#4d4d4d", padding: 1 },
            grid: { color: (ctx: any) => (ctx.tick && major(ctx.tick.value, 10) ? "#e4e4e4" : "#f2f2f2"), tickColor: (ctx: any) => (ctx.tick && major(ctx.tick.value, 10) ? "#666" : "rgba(0,0,0,0)"), tickLength: 3 },
            border: { display: false },
          },
          y: {
            type: "linear", min: -11.7, max: 14.6,
            afterBuildTicks: (s: any) => { s.ticks = [-10, -7.5, -5, -2.5, 0, 2.5, 5, 7.5, 10, 12.5].map((v) => ({ value: v })); },
            afterFit: (s: any) => { s.width = 45; },
            ticks: { callback: (v: any) => (major(v, 5) ? String(v) : ""), autoSkip: false, font: { size: 11, family: FF }, color: "#4d4d4d", padding: 2 },
            grid: { color: (ctx: any) => (ctx.tick && major(ctx.tick.value, 5) ? "#e4e4e4" : "#f2f2f2"), tickColor: (ctx: any) => (ctx.tick && major(ctx.tick.value, 5) ? "#666" : "rgba(0,0,0,0)"), tickLength: 3 },
            border: { display: false },
          },
        },
      } as any,
      plugins: [frame as any],
    });
    return () => chart.destroy();
  }, []);
  return <canvas ref={ref} width={210} height={165} style={{ position: "absolute", left: 0, top: 25, width: 210, height: 165 }} />;
}

function Volcano({ L, R, gray, red, green }: any) {
  const ref = useRef<HTMLCanvasElement>(null);
  const PADL = 40, PADT = 10, PADR = 8, XH = 18;
  const top = 22;
  const w = PADL + (R - L) + PADR;
  const h = PADT + (161 - 32) + XH;
  useEffect(() => {
    const dash = (pts: number[][]) => ({
      type: "line",
      data: pts.map(([x, y]) => ({ x, y })),
      borderColor: "#a6a6a6",
      borderDash: [3, 2],
      borderWidth: 1,
      pointRadius: 0,
      order: 5,
    });
    const pts = (arr: number[][], col: string, order: number) => ({
      type: "scatter",
      data: arr.map(([x, y]) => ({ x, y })),
      backgroundColor: col,
      borderWidth: 0,
      pointRadius: 1.8,
      clip: false,
      order,
    });
    const chart = new Chart(ref.current as HTMLCanvasElement, {
      type: "scatter",
      data: {
        datasets: [
          dash([[-1, 0], [-1, 15.9]]),
          dash([[1, 0], [1, 15.9]]),
          dash([[-2, 1.3], [4, 1.3]]),
          pts(gray, "#c6c6c6", 3),
          pts(red, "#ff0000", 1),
          pts(green, "#0b8a0b", 1),
        ] as any,
      },
      options: {
        responsive: false,
        animation: false,
        layout: { padding: { left: 0, top: PADT, right: PADR, bottom: 0 } },
        plugins: { legend: { display: false }, tooltip: { enabled: false } },
        scales: {
          x: {
            type: "linear", min: -2, max: 4,
            afterBuildTicks: (s: any) => { s.ticks = VOLCANO_XTICKS.map((v) => ({ value: v })); },
            afterFit: (s: any) => { s.height = XH; },
            ticks: { callback: (v: any) => String(v), autoSkip: false, maxRotation: 0, font: { size: 10.5, family: FF }, color: "#111", padding: 1 },
            grid: { display: true, drawOnChartArea: false, tickLength: 3, color: "#9a9a9a" },
            border: { display: true, color: "#9a9a9a", width: 1 },
          },
          y: {
            type: "linear", min: 0, max: 15.9,
            afterBuildTicks: (s: any) => { s.ticks = VOLCANO_YTICKS.map((v) => ({ value: v })); },
            afterFit: (s: any) => { s.width = PADL; },
            ticks: { callback: (v: any) => VOLCANO_YLABELS[VOLCANO_YTICKS.indexOf(v)] ?? "", autoSkip: false, font: { size: 10.5, family: FF }, color: "#111", padding: 2 },
            grid: { display: true, drawOnChartArea: false, tickLength: 3, color: "#9a9a9a" },
            border: { display: true, color: "#c8c8c8", width: 2 },
          },
        },
      } as any,
    });
    return () => chart.destroy();
  }, []);
  return <canvas ref={ref} width={w} height={h} style={{ position: "absolute", left: L - PADL, top, width: w, height: h }} />;
}

const LETTERS: [string, number, number][] = [["A", 17, 14], ["B", 238, 13], ["C", 16, 217], ["D", 269, 218], ["E", 524, 218], ["F", 13, 555], ["G", 13, 738], ["H", 269, 556], ["I", 521, 556]];
const PANEL_TITLES: [string, number, number][] = [["Leukocyte trafficking", 142, 218], ["T cell infiltration", 398, 218], ["T cell co-stimulation", 652, 218], ["IFN-\u03B3 signaling", 138, 555], ["Antigen presentation", 147, 738], ["Th1 chemokine receptors & their ligands", 392, 556], ["Effector molecules", 640, 556]];
const YTITLES: [number, number, number][] = [[17, 381, 12], [268, 379, 12], [526, 379, 12], [12, 637, 10.5], [12, 897, 16], [270, 796, 12], [524, 800, 12]];
const VOLCANO_TITLES: [string, number][] = [["Grade 0 vs. Grade 1", 315], ["Grade 0 vs. Grade 2", 447], ["Grade 0 vs. Grade 3", 593]];
const VOLCANO_YT_X = [235, 373, 517];
const VOLCANO_XT_X = [315, 453, 595];

export default function App() {
  return (
    <div style={{ position: "absolute", left: 0, top: 0, width: 764, height: 1028, overflow: "hidden", background: "#fff", fontFamily: FF }}>
      <PCAChart />
      <Volcano L={272} R={359} gray={V1_GRAY} red={[]} green={[]} />
      <Volcano L={410} R={497} gray={V2_GRAY} red={V2_RED} green={V2_GREEN} />
      <Volcano L={552} R={637} gray={V3_GRAY} red={V3_RED} green={[]} />
      {BOX_CHARTS.map((c) => <BoxChart key={c.gene} c={c} />)}

      {LETTERS.map(([t, x, y]) => <Txt key={t} x={x} y={y} s={16} w="bold" color="#000">{t}</Txt>)}
      {PANEL_TITLES.map(([t, x, y]) => <Txt key={t} x={x} y={y} s={12.5}>{t}</Txt>)}
      {YTITLES.map(([x, y, s], i) => <Txt key={"yt" + i} x={x} y={y} s={s} rot>Normalized mRNA expression</Txt>)}

      {/* Panel A texts */}
      <Txt x={17} y={98} s={12.5} rot color="#222">PC2: 18% variance</Txt>
      <Txt x={127} y={181} s={12.5} color="#222">PC1: 40% variance</Txt>
      {[["Grade 0", 67, 12, 0], ["Grade 2", 142, 12, 2], ["Grade 1", 67, 25, 1], ["Grade 3", 142, 25, 3]].map(([t, x, y, i]: any) => (
        <React.Fragment key={t}>
          <div style={{ position: "absolute", left: x - 3.5, top: y - 3.5, width: 7, height: 7, borderRadius: "50%", background: PCA_COLORS[i] }} />
          <div style={{ position: "absolute", left: x + 7, top: y - 6, fontSize: 10, lineHeight: "12px", fontFamily: FF, color: "#222", whiteSpace: "nowrap" }}>{t}</div>
        </React.Fragment>
      ))}

      {/* Panel B texts */}
      {VOLCANO_TITLES.map(([t, x]) => <Txt key={t} x={x} y={14} s={10.5}>{t}</Txt>)}
      {VOLCANO_YT_X.map((x, i) => (
        <Txt key={"vy" + i} x={x} y={103} s={11} rot>
          log<span style={{ fontSize: 7, verticalAlign: "-2px" }}>10</span> (adjusted <i>P</i> value)
        </Txt>
      ))}
      {VOLCANO_XT_X.map((x, i) => (
        <Txt key={"vx" + i} x={x} y={185} s={11}>
          log<span style={{ fontSize: 7, verticalAlign: "-2px" }}>2</span> (fold change)
        </Txt>
      ))}
      {[["Significantly upregulated", 29, "#ff0000"], ["Significantly downregulated", 41, "#0b8a0b"]].map(([t, y, col]: any) => (
        <React.Fragment key={t}>
          <div style={{ position: "absolute", left: 643, top: y - 3, width: 6, height: 6, borderRadius: "50%", background: col }} />
          <div style={{ position: "absolute", left: 652, top: y - 5.5, fontSize: 8.5, lineHeight: "11px", fontFamily: FF, color: "#222", whiteSpace: "nowrap" }}>{t}</div>
        </React.Fragment>
      ))}
    </div>
  );
}
